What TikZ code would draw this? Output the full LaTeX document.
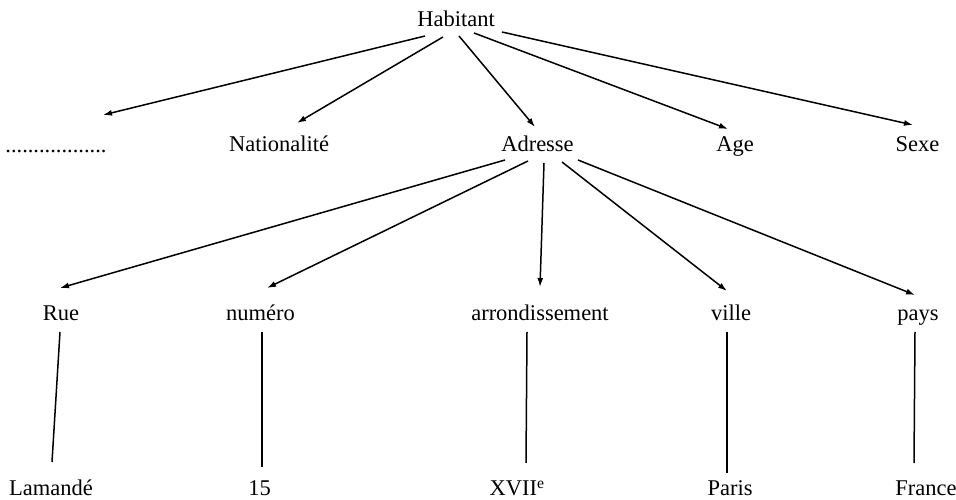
\documentclass[tikz,border=0pt]{standalone}
\usepackage{fontspec}
\setmainfont{Liberation Serif}
\usetikzlibrary{arrows.meta}

\begin{document}
\begin{tikzpicture}[x=1pt,y=1pt,font=\fontsize{22.5}{27}\selectfont]
        \tikzstyle{mot}=[inner sep=0pt, anchor=base]
        \tikzstyle{fleche}=[line width=1.5pt, -{Latex[length=9pt,width=6pt]}]
        \tikzstyle{trait}=[line width=1.5pt]

        \useasboundingbox (0,0) rectangle (956,500);

        % racine
        \node[mot] (hab) at (456,473) {Habitant};

        % deuxieme niveau
        \node[mot] (dots) at (56,347)    {..................};
        \node[mot] (nat)  at (279,348)   {Nationalité};
        \node[mot] (adr)  at (537.5,348) {Adresse};
        \node[mot] (age)  at (735,348)   {Age};
        \node[mot] (sexe) at (917.5,348) {Sexe};

        % composants de l'adresse
        \node[mot] (rue) at (61,179)    {Rue};
        \node[mot] (num) at (260.5,179) {numéro};
        \node[mot] (arr) at (540,179)   {arrondissement};
        \node[mot] (vil) at (731,179)   {ville};
        \node[mot] (pay) at (918,179)   {pays};

        % valeurs
        \node[mot] (lam)    at (51,4)    {Lamandé};
        \node[mot] (quinze) at (259.5,4) {15};
        \node[mot] (xvii)   at (517,4)   {XVII\textsuperscript{e}};
        \node[mot] (par)    at (730,4)   {Paris};
        \node[mot] (fra)    at (926,4)   {France};

        \draw[fleche] ([shift={(-31,-9)}]hab.base)  -- ([shift={(47,38)}]dots.base);
        \draw[fleche] ([shift={(-13,-10)}]hab.base) -- ([shift={(18,29)}]nat.base);
        \draw[fleche] ([shift={(3,-9)}]hab.base)    -- ([shift={(-2.5,25)}]adr.base);
        \draw[fleche] ([shift={(18,-6)}]hab.base)   -- ([shift={(-7,23)}]age.base);
        \draw[fleche] ([shift={(46,-5)}]hab.base)   -- ([shift={(-4.5,27)}]sexe.base);

        \draw[fleche] ([shift={(-32.5,-8)}]adr.base) -- ([shift={(-1,33)}]rue.base);
        \draw[fleche] ([shift={(-9.5,-9)}]adr.base)  -- ([shift={(6.5,33)}]num.base);
        \draw[fleche] ([shift={(6.5,-11)}]adr.base)  -- ([shift={(0,34)}]arr.base);
        \draw[fleche] ([shift={(24.5,-10)}]adr.base) -- ([shift={(-4,30)}]vil.base);
        \draw[fleche] ([shift={(40.5,-8)}]adr.base)  -- ([shift={(-3,26)}]pay.base);

        \draw[trait] ([shift={(-1,-11)}]rue.base)  -- ([shift={(1,34)}]lam.base);
        \draw[trait] ([shift={(1.5,-11)}]num.base) -- ([shift={(2.5,29)}]quinze.base);
        \draw[trait] ([shift={(-13,-11)}]arr.base) -- ([shift={(9,33)}]xvii.base);
        \draw[trait] ([shift={(-4,-11)}]vil.base)  -- ([shift={(-3,23)}]par.base);
        \draw[trait] ([shift={(-3,-11)}]pay.base)  -- ([shift={(-12,33)}]fra.base);
    \end{tikzpicture}
\end{document}
